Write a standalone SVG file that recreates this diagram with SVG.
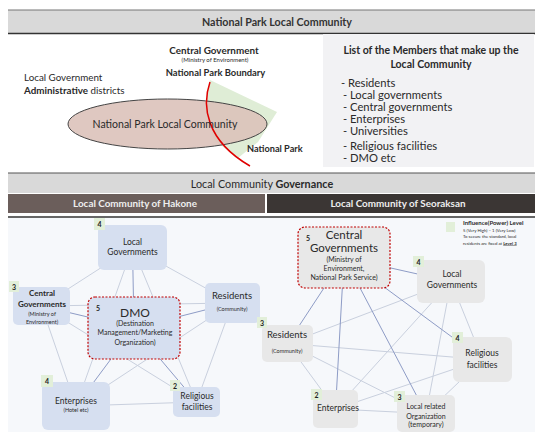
<svg xmlns="http://www.w3.org/2000/svg" width="535" height="432" viewBox="0 0 535 432">
<style>
text{font-family:Lato,"Liberation Sans",sans-serif;fill:#2a2a2a}
.b{font-weight:bold}
.c{text-anchor:middle}
.hdr{font-size:10.7px;font-weight:bold;fill:#333}
.sub{font-size:9.9px;font-weight:bold;fill:#eeeeee}
.ln{stroke:#c9d0de;stroke-width:1;fill:none}
.dk{stroke:#8e9cc6;stroke-width:1;fill:none}
.nl{fill:#d6dff0}
.nr{fill:#e8e8e8}
.dash{stroke:#c00000;stroke-width:1.2;stroke-dasharray:2 1.5}
.bg{fill:#e2efd9}
.bt{font-size:7px;font-weight:bold;fill:#222}
.t8{font-size:8.5px}
.t6{font-size:5.5px}
.li{font-size:11.2px}
</style>
<rect width="535" height="432" fill="#ffffff"/>
<!-- top header -->
<g id="header-top">
<rect x="8" y="10" width="527" height="23" fill="#d9d9d9"/>
<line x1="8" y1="10" x2="535" y2="10" stroke="#777" stroke-width="1.2"/>
<line x1="8" y1="33.5" x2="535" y2="33.5" stroke="#333" stroke-width="1.5"/>
<text class="hdr c" x="277" y="25.5">National Park Local Community</text>
</g>
<!-- concept figure -->
<g id="concept">
<polygon points="210,80 277,112 258,142 238,158 214,140 205,108" fill="#dfedd6"/>
<ellipse cx="167.5" cy="124" rx="99.5" ry="25" fill="#dbc2ba" fill-opacity="0.9" stroke="#444" stroke-width="1"/>
<path d="M210,82 C202,105 205,140 250,166" fill="none" stroke="#e00000" stroke-width="1.5"/>
<text class="c" x="165" y="128" font-size="10.5">National Park Local Community</text>
<text class="b c" x="214" y="53.5" font-size="9.9">Central Government</text>
<text class="c" x="215" y="61.5" font-size="6">(Ministry of Environment)</text>
<text class="b c" x="215.5" y="75.5" font-size="9.4">National Park Boundary</text>
<text x="24" y="80.5" font-size="9.8">Local Government</text>
<text x="24" y="94" font-size="9.8"><tspan class="b">Administrative</tspan> districts</text>
<text class="b" x="247" y="152" font-size="9.2">National Park</text>
</g>
<!-- member list -->
<g id="member-list">
<rect x="323" y="34" width="211" height="133" fill="#f2f2f4"/>
<text class="b c" x="431" y="53.5" font-size="10.5">List of the Members that make up the</text>
<text class="b c" x="431" y="67.5" font-size="10.5">Local Community</text>
<text class="li" x="341" y="86.5">-  Residents</text>
<text class="li" x="343" y="98.5">-  Local governments</text>
<text class="li" x="343" y="110.5">-  Central governments</text>
<text class="li" x="343" y="123">-  Enterprises</text>
<text class="li" x="343" y="135">-  Universities</text>
<text class="li" x="343" y="149.5">-  Religious facilities</text>
<text class="li" x="343" y="161.5">-  DMO etc</text>
</g>
<!-- governance header -->
<g id="header-gov">
<rect x="8" y="173" width="527" height="20" fill="#d9d9d9"/>
<line x1="8" y1="173" x2="535" y2="173" stroke="#555" stroke-width="1.2"/>
<text class="c" x="262" y="187.5" font-size="10.8" fill="#333">Local Community <tspan class="b">Governance</tspan></text>
<rect x="8" y="194" width="257" height="19" fill="#6b5e5b"/>
<rect x="267" y="194" width="268" height="19" fill="#3b3634"/>
<text class="sub c" x="135" y="207">Local Community of Hakone</text>
<text class="sub c" x="398" y="207">Local Community of Seoraksan</text>
<rect x="8" y="218" width="527" height="214" fill="#f6f8fb"/>
<line x1="8" y1="217" x2="535" y2="217" stroke="#333" stroke-width="1.5"/>
</g>
<!-- connectors -->
<g id="connectors">
<line class="ln" x1="132.5" y1="247.5" x2="41.5" y2="306"/>
<line class="ln" x1="132.5" y1="247.5" x2="232.5" y2="303"/>
<line class="ln" x1="132.5" y1="247.5" x2="76" y2="406"/>
<line class="ln" x1="132.5" y1="247.5" x2="196.5" y2="402"/>
<line class="ln" x1="41.5" y1="306" x2="232.5" y2="303"/>
<line class="ln" x1="41.5" y1="306" x2="76" y2="406"/>
<line class="ln" x1="41.5" y1="306" x2="196.5" y2="402"/>
<line class="ln" x1="232.5" y1="303" x2="76" y2="406"/>
<line class="ln" x1="232.5" y1="303" x2="196.5" y2="402"/>
<line class="ln" x1="76" y1="406" x2="196.5" y2="402"/>
<line class="dk" x1="134" y1="328" x2="132.5" y2="247.5"/>
<line class="dk" x1="134" y1="328" x2="41.5" y2="306"/>
<line class="dk" x1="134" y1="328" x2="232.5" y2="303"/>
<line class="dk" x1="134" y1="328" x2="76" y2="406"/>
<line class="dk" x1="134" y1="328" x2="196.5" y2="402"/>
<line class="ln" x1="451" y1="281.5" x2="287.5" y2="343.5"/>
<line class="ln" x1="451" y1="281.5" x2="482.5" y2="359.5"/>
<line class="ln" x1="451" y1="281.5" x2="335.5" y2="409"/>
<line class="ln" x1="451" y1="281.5" x2="426" y2="413.5"/>
<line class="ln" x1="287.5" y1="343.5" x2="482.5" y2="359.5"/>
<line class="ln" x1="287.5" y1="343.5" x2="335.5" y2="409"/>
<line class="ln" x1="287.5" y1="343.5" x2="426" y2="413.5"/>
<line class="ln" x1="482.5" y1="359.5" x2="335.5" y2="409"/>
<line class="ln" x1="482.5" y1="359.5" x2="426" y2="413.5"/>
<line class="ln" x1="335.5" y1="409" x2="426" y2="413.5"/>
<line class="dk" x1="344" y1="257.5" x2="451" y2="281.5"/>
<line class="dk" x1="344" y1="257.5" x2="287.5" y2="343.5"/>
<line class="dk" x1="344" y1="257.5" x2="482.5" y2="359.5"/>
<line class="dk" x1="344" y1="257.5" x2="335.5" y2="409"/>
<line class="dk" x1="344" y1="257.5" x2="426" y2="413.5"/>
</g>
<!-- Hakone nodes -->
<g id="h-local-gov">
<rect class="nl" x="98" y="225" width="69" height="45" rx="6"/>
<rect class="bg" x="94" y="218" width="11" height="12"/>
<text class="bt c" x="99.5" y="227">4</text>
<text class="t8 c" x="132.5" y="245">Local</text>
<text class="t8 c" x="132.5" y="255">Governments</text>
</g>
<g id="h-central-gov">
<rect class="nl" x="13" y="287" width="57" height="38" rx="5"/>
<rect class="bg" x="9" y="281" width="10" height="11"/>
<text class="bt c" x="14" y="289.5">3</text>
<text class="b c" x="42" y="295.5" font-size="8">Central</text>
<text class="b c" x="42" y="306.5" font-size="8">Governments</text>
<text class="t6 c" x="42" y="315.5">(Ministry of</text>
<text class="t6 c" x="42" y="323.5">Environment)</text>
</g>
<g id="h-dmo">
<rect class="nl dash" x="88" y="297" width="92" height="62" rx="7"/>
<text class="bt" x="96" y="311">5</text>
<text class="c" x="135" y="317" font-size="12">DMO</text>
<text class="c" x="135" y="326" font-size="7">(Destination</text>
<text class="c" x="135" y="335" font-size="7">Management/Marketing</text>
<text class="c" x="135" y="345" font-size="7">Organization)</text>
</g>
<g id="h-residents">
<rect class="nl" x="205" y="283" width="55" height="40" rx="5"/>
<text class="c" x="232" y="299" font-size="9.5">Residents</text>
<text class="t6 c" x="232" y="311">(Community)</text>
</g>
<g id="h-enterprises">
<rect class="nl" x="42" y="382" width="68" height="48" rx="6"/>
<rect class="bg" x="41" y="375" width="12" height="12"/>
<text class="bt c" x="47" y="384">4</text>
<text class="t8 c" x="76" y="403.5">Enterprises</text>
<text class="t6 c" x="76" y="412">(Hotel etc)</text>
</g>
<g id="h-religious">
<rect class="nl" x="173" y="387" width="47" height="30" rx="5"/>
<rect class="bg" x="170" y="380" width="10" height="11"/>
<text class="bt c" x="175" y="388.5">2</text>
<text class="t8 c" x="197" y="399">Religious</text>
<text class="t8 c" x="197" y="410">facilities</text>
</g>
<!-- Seoraksan nodes -->
<g id="s-central-gov">
<rect class="nr dash" x="298" y="227" width="92" height="61" rx="7"/>
<text class="bt" x="306" y="241">5</text>
<text class="c" x="344" y="239" font-size="11.5">Central</text>
<text class="c" x="344" y="252" font-size="11.5">Governments</text>
<text class="c" x="344" y="262" font-size="7">(Ministry of</text>
<text class="c" x="344" y="271" font-size="7">Environment,</text>
<text class="c" x="344" y="280" font-size="7">National Park Service)</text>
</g>
<g id="s-local-gov">
<rect class="nr" x="417" y="260" width="68" height="43" rx="6"/>
<rect class="bg" x="413" y="256" width="11" height="11"/>
<text class="bt c" x="418.5" y="265">4</text>
<text class="t8 c" x="452" y="277">Local</text>
<text class="t8 c" x="452" y="288">Governments</text>
</g>
<g id="s-residents">
<rect class="nr" x="262" y="325" width="51" height="37" rx="5"/>
<rect class="bg" x="257" y="317" width="10" height="11"/>
<text class="bt c" x="262" y="325.5">3</text>
<text class="c" x="287" y="337.5" font-size="9.5">Residents</text>
<text class="t6 c" x="287" y="353">(Community)</text>
</g>
<g id="s-religious">
<rect class="nr" x="453" y="337" width="59" height="45" rx="6"/>
<rect class="bg" x="452" y="332" width="11" height="11"/>
<text class="bt c" x="457.5" y="341">4</text>
<text class="t8 c" x="482" y="356">Religious</text>
<text class="t8 c" x="482" y="368">facilities</text>
</g>
<g id="s-enterprises">
<rect class="nr" x="313" y="390" width="45" height="38" rx="5"/>
<rect class="bg" x="311" y="389" width="11" height="11"/>
<text class="bt c" x="316.5" y="397.5">2</text>
<text class="t8 c" x="338" y="411">Enterprises</text>
</g>
<g id="s-local-org">
<rect class="nr" x="397" y="395" width="58" height="37" rx="5"/>
<rect class="bg" x="394" y="391" width="11" height="11"/>
<text class="bt c" x="399.5" y="400">3</text>
<text class="c" x="426" y="408.5" font-size="7">Local related</text>
<text class="c" x="426" y="418.5" font-size="7">Organization</text>
<text class="c" x="426" y="426.5" font-size="7">(temporary)</text>
</g>
<!-- legend -->
<g id="legend">
<rect class="bg" x="446" y="222" width="9" height="10"/>
<text class="b" x="463" y="225" font-size="6">Influence(Power) Level</text>
<text x="463" y="231.5" font-size="4.3">5 (Very High) – 1 (Very Low)</text>
<text x="463" y="238" font-size="4.3">To secure the standard, local</text>
<text x="463" y="244.5" font-size="4.3">residents are fixed at <tspan class="b" text-decoration="underline">Level 3</tspan></text>
</g>
</svg>
